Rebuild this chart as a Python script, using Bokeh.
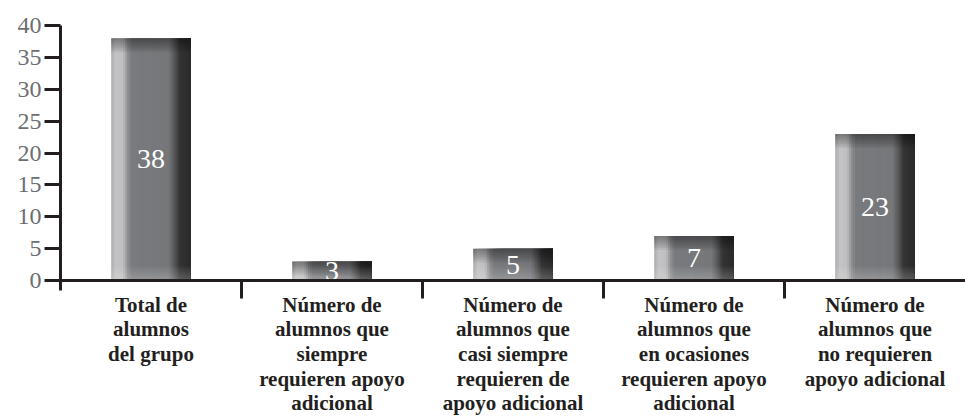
from bokeh.plotting import figure
from bokeh.models import FixedTicker, Range1d, ColumnDataSource, Span
from bokeh.core.properties import value
from bokeh.embed import file_html
from bokeh.resources import INLINE

categories = [
    "Total de\nalumnos\ndel grupo",
    "Número de\nalumnos que\nsiempre\nrequieren apoyo\nadicional",
    "Número de\nalumnos que\ncasi siempre\nrequieren de\napoyo adicional",
    "Número de\nalumnos que\nen ocasiones\nrequieren apoyo\nadicional",
    "Número de\nalumnos que\nno requieren\napoyo adicional",
]
values = [38, 3, 5, 7, 23]
y_ticks = [0, 5, 10, 15, 20, 25, 30, 35, 40]

FONT = "Liberation Serif"
AXIS_COLOR = "#231f20"
PX = 255 / 40.0  # pixels per data unit (style)

centers = [i + 0.5 for i in range(len(values))]
n = len(values)

FH = 390
p = figure(frame_width=905, frame_height=FH, output_backend="svg",
           toolbar_location=None, x_range=Range1d(0, n), y_range=Range1d(40 - FH / PX, 40),
           min_border_left=60, min_border_top=25, min_border_right=0, min_border_bottom=0)
p.grid.visible = False
p.outline_line_color = None
p.background_fill_color = "white"
p.xaxis.visible = False

# bar shading profile across bar width (style)
BAR_W = 0.44
keys = [(0.00, (172, 172, 175)), (0.06, (196, 196, 198)), (0.15, (190, 190, 192)),
        (0.21, (140, 141, 144)), (0.26, (121, 122, 125)), (0.72, (118, 119, 122)),
        (0.80, (85, 85, 87)), (0.86, (52, 52, 53)), (1.00, (42, 42, 42))]

def col_at(t):
    for (t0, c0), (t1, c1) in zip(keys[:-1], keys[1:]):
        if t0 <= t <= t1:
            f = (t - t0) / (t1 - t0) if t1 > t0 else 0
            c = [round(a + (b - a) * f) for a, b in zip(c0, c1)]
            return "#%02x%02x%02x" % tuple(c)
    return "#2a2a2a"

N = 40
sw = BAR_W / N
for k in range(N):
    t = (k + 0.5) / N
    left = -BAR_W / 2 + k * sw
    right = BAR_W / 2
    p.vbar(x=[c + (left + right) / 2 for c in centers], top=values, bottom=0,
           width=right - left, fill_color=col_at(t), line_color=None)

# top darkening and bottom lightening bands
NB = 7
D = 2.2
for k in range(1, NB + 1):
    d = D * k / NB
    p.vbar(x=centers, top=values, bottom=[v - d for v in values], width=BAR_W,
           fill_color="black", fill_alpha=0.06, line_color=None)
    p.vbar(x=centers, top=[min(d, v) for v in values], bottom=0, width=BAR_W,
           fill_color="white", fill_alpha=0.035, line_color=None)

src = ColumnDataSource(dict(x=centers, y=[v / 2 for v in values], t=[str(v) for v in values]))
p.text(x="x", y="y", text="t", source=src, text_color="white", text_align="center",
       text_baseline="middle", text_font=value(FONT), text_font_size="28px")

# x axis line at 0 and separator ticks between categories
p.add_layout(Span(location=0, dimension="width", line_color=AXIS_COLOR, line_width=3))
seps = list(range(1, n))
p.segment(x0=seps, x1=seps, y0=[0] * len(seps), y1=[-18 / PX] * len(seps),
          line_color=AXIS_COLOR, line_width=3)

# category labels
lsrc = ColumnDataSource(dict(x=centers, y=[-1.9] * n, t=categories))
p.text(x="x", y="y", text="t", source=lsrc, text_align="center", text_baseline="top",
       text_font=value(FONT), text_font_size="21px", text_font_style="bold",
       text_color=AXIS_COLOR, text_line_height=1.03)

# y axis
ya = p.yaxis[0]
ya.ticker = FixedTicker(ticks=y_ticks, minor_ticks=[])
ya.bounds = (-1.6, 40)
ya.axis_line_color = AXIS_COLOR
ya.axis_line_width = 3
ya.major_tick_line_color = AXIS_COLOR
ya.major_tick_line_width = 3
ya.major_tick_out = 16
ya.major_tick_in = 0
ya.minor_tick_line_color = None
ya.major_label_text_font = FONT
ya.major_label_text_font_size = "24px"
ya.major_label_text_color = "#6d6e71"
ya.major_label_standoff = 3

open("out.html", "w").write(file_html(p, INLINE))
